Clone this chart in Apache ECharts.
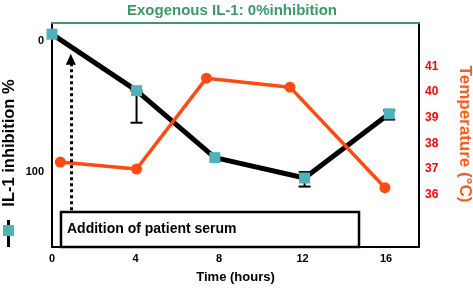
<!DOCTYPE html>
<html>
<head>
<meta charset="utf-8">
<script src="https://cdn.jsdelivr.net/npm/echarts@6/dist/echarts.min.js"></script>
<style>
  html, body { margin: 0; padding: 0; background: #fff; }
  #chart { width: 473px; height: 289px; }
</style>
</head>
<body>
<div id="chart"></div>
<script>
const FONT = 'Arial, "Liberation Sans", sans-serif';

// x positions (hours) as drawn, and values
const timeTicks = [0, 4, 8, 12, 16];
const inhibTime = [0, 4.05, 7.8, 12.1, 16.15];
const inhibValues = [-5, 38, 89, 104.5, 55.6];
const errTime = [4.05, 12.1, 16.15];
const errLow = [38, 100, 53];
const errHigh = [62.4, 111, 60];
const tempTime = [0.4, 4.05, 7.4, 11.4, 15.95];
const tempValues = [37.27, 37.0, 40.54, 40.19, 36.27];
const inhibTicks = [0, 100];
const tempTicks = [36, 37, 38, 39, 40, 41];
const arrowX = 0.9;
const arrowY = [129, 14];

const green = '#3a9a6a';
const orange = '#ff4a10';
const teal = '#4cb3bb';

const chart = echarts.init(document.getElementById('chart'));

chart.setOption({
  backgroundColor: '#fff',
  animation: false,
  title: {
    text: 'Exogenous IL-1: 0%inhibition',
    left: 122,
    top: -2,
    textStyle: { color: green, fontSize: 15, fontWeight: 'bold', fontFamily: FONT }
  },
  grid: { left: 52, right: 54, top: 23, bottom: 39 },
  xAxis: [
    {
      type: 'value',
      min: 0,
      max: 17.58,
      splitLine: { show: false },
      axisLine: { onZero: false, lineStyle: { color: '#000', width: 2 } },
      axisTick: { show: false },
      axisLabel: {
        customValues: timeTicks,
        color: '#000', fontWeight: 'bold', fontSize: 11, fontFamily: FONT, margin: 6
      },
      name: 'Time (hours)',
      nameLocation: 'middle',
      nameGap: 24,
      nameTextStyle: { color: '#000', fontWeight: 'bold', fontSize: 13, fontFamily: FONT }
    },
    {
      type: 'value',
      position: 'top',
      min: 0,
      max: 17.58,
      splitLine: { show: false },
      axisLine: { onZero: false, lineStyle: { color: green, width: 2 } },
      axisTick: { show: false },
      axisLabel: { show: false }
    }
  ],
  yAxis: [
    {
      type: 'value',
      inverse: true,
      min: -13.5,
      max: 157,
      splitLine: { show: false },
      axisLine: { show: true, onZero: false, lineStyle: { color: '#000', width: 2 } },
      axisTick: { show: false },
      axisLabel: {
        customValues: inhibTicks,
        color: '#000', fontWeight: 'bold', fontSize: 11, fontFamily: FONT, margin: 8
      }
    },
    {
      type: 'value',
      position: 'right',
      min: 33.96,
      max: 42.69,
      splitLine: { show: false },
      axisLine: { show: true, onZero: false, lineStyle: { color: '#000', width: 2 } },
      axisTick: { show: false },
      axisLabel: {
        customValues: tempTicks,
        color: '#ff0000', fontWeight: 'bold', fontSize: 12, fontFamily: FONT, margin: 6
      }
    }
  ],
  series: [
    {
      type: 'custom',
      xAxisIndex: 0,
      yAxisIndex: 0,
      data: errTime.map((t, i) => [t, errLow[i], errHigh[i]]),
      renderItem: function (params, api) {
        const a = api.coord([api.value(0), api.value(1)]);
        const b = api.coord([api.value(0), api.value(2)]);
        const w = 6;
        const style = { stroke: '#000', lineWidth: 2 };
        return {
          type: 'group',
          children: [
            { type: 'line', shape: { x1: a[0], y1: a[1], x2: b[0], y2: b[1] }, style },
            { type: 'line', shape: { x1: a[0] - w, y1: a[1], x2: a[0] + w, y2: a[1] }, style },
            { type: 'line', shape: { x1: b[0] - w, y1: b[1], x2: b[0] + w, y2: b[1] }, style }
          ]
        };
      },
      z: 2
    },
    {
      name: 'IL-1 inhibition %',
      type: 'line',
      xAxisIndex: 0,
      yAxisIndex: 0,
      data: inhibTime.map((t, i) => [t, inhibValues[i]]),
      symbol: 'rect',
      symbolSize: 11,
      itemStyle: { color: teal },
      lineStyle: { color: '#000', width: 5 },
      markLine: {
        silent: true,
        symbol: ['none', 'triangle'],
        symbolSize: [10, 11],
        label: { show: false },
        lineStyle: { color: '#000', width: 3, type: [3, 3] },
        data: [[{ coord: [arrowX, arrowY[0]] }, { coord: [arrowX, arrowY[1]] }]]
      },
      z: 3
    },
    {
      name: 'Temperature',
      type: 'line',
      xAxisIndex: 0,
      yAxisIndex: 1,
      data: tempTime.map((t, i) => [t, tempValues[i]]),
      symbol: 'circle',
      symbolSize: 11,
      itemStyle: { color: orange },
      lineStyle: { color: orange, width: 3.5 },
      z: 4
    }
  ],
  graphic: [
    {
      type: 'rect',
      shape: { x: 61, y: 212, width: 298, height: 35 },
      style: { fill: '#fff', stroke: '#000', lineWidth: 2.5 },
      z: 100
    },
    {
      type: 'text',
      x: 67, y: 229,
      style: {
        text: 'Addition of patient serum',
        fill: '#000', font: 'bold 14px ' + FONT,
        verticalAlign: 'middle'
      },
      z: 101
    },
    {
      type: 'text',
      x: 9, y: 143,
      rotation: Math.PI / 2,
      style: {
        text: 'IL-1 inhibition %',
        fill: '#000', font: 'bold 16.5px ' + FONT,
        align: 'center', verticalAlign: 'middle'
      }
    },
    {
      type: 'rect',
      shape: { x: 7, y: 220, width: 3, height: 27 },
      style: { fill: '#000' }
    },
    {
      type: 'rect',
      shape: { x: 3, y: 225, width: 11, height: 11 },
      style: { fill: teal }
    },
    {
      type: 'text',
      x: 465, y: 134,
      rotation: -Math.PI / 2,
      style: {
        text: 'Temperature (°C)',
        fill: '#ff5a1e', font: 'bold 17px ' + FONT,
        align: 'center', verticalAlign: 'middle'
      }
    }
  ]
});
</script>
</body>
</html>
